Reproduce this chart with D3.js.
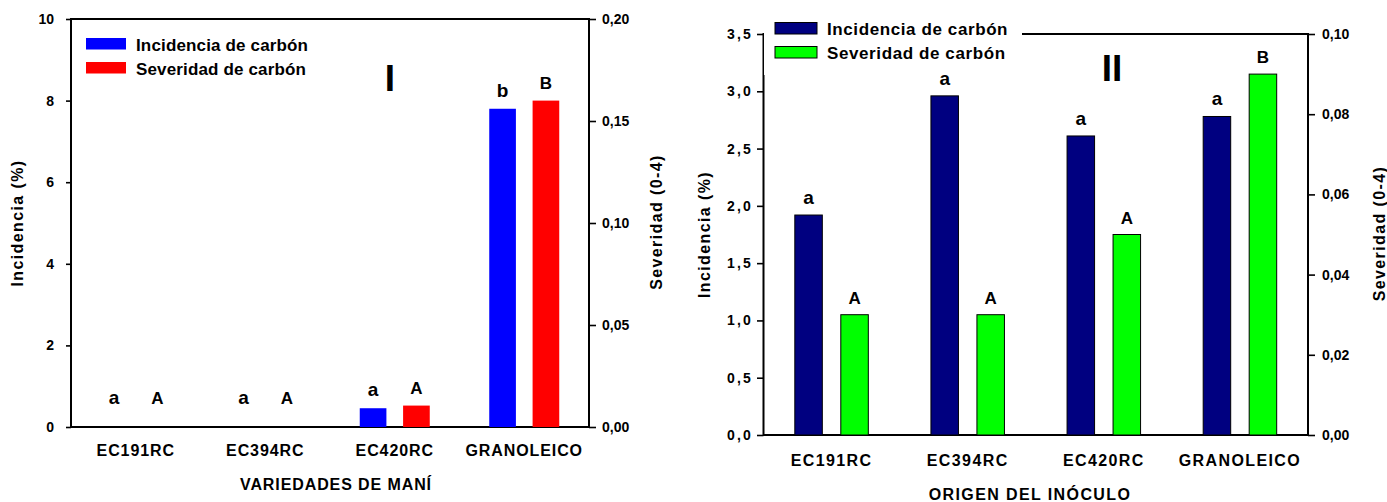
<!DOCTYPE html>
<html>
<head>
<meta charset="utf-8">
<script src="https://d3js.org/d3.v7.min.js"></script>
<style>
  body { margin: 0; background: #fff; }
  text { font-family: "Liberation Sans", Arial, sans-serif; font-weight: bold; fill: #000; }
</style>
</head>
<body>
<script>
// datos
var categorias = ["EC191RC", "EC394RC", "EC420RC", "GRANOLEICO"];
var series = ["Incidencia de carbón", "Severidad de carbón"];

var incidenciaI = [0, 0, 0.46, 7.8];
var severidadI = [0, 0, 0.0105, 0.16];
var letrasIncI = ["a", "a", "a", "b"];
var letrasSevI = ["A", "A", "A", "B"];
var ticksIncI = [0, 2, 4, 6, 8, 10];
var ticksSevI = [0, 0.05, 0.10, 0.15, 0.20];

var incidenciaII = [1.92, 2.96, 2.61, 2.78];
var severidadII = [0.03, 0.03, 0.05, 0.09];
var letrasIncII = ["a", "a", "a", "a"];
var letrasSevII = ["A", "A", "A", "B"];
var ticksIncII = [0, 0.5, 1.0, 1.5, 2.0, 2.5, 3.0, 3.5];
var ticksSevII = [0, 0.02, 0.04, 0.06, 0.08, 0.10];

var loc = d3.formatLocale({decimal: ",", thousands: ".", grouping: [3], currency: ["", ""]});

var svg = d3.select("body").append("svg")
    .attr("width", 1387)
    .attr("height", 502);

function panel(cfg) {
    var g = svg.append("g");

    var x0 = d3.scaleBand().domain(categorias).range([cfg.left, cfg.right]).padding(0);
    var x1 = d3.scaleBand().domain(["inc", "sev"]).range([-cfg.half, cfg.half]).paddingInner(cfg.pad);
    var yL = d3.scaleLinear().domain([0, cfg.incMax]).range([cfg.bottom, cfg.top]);
    var yR = d3.scaleLinear().domain([0, cfg.sevMax]).range([cfg.bottom, cfg.top]);

    var bars = [];
    categorias.forEach(function(c, i) {
        bars.push({c: c, k: "inc", v: cfg.inc[i], y: yL(cfg.inc[i]), l: cfg.li[i]});
        bars.push({c: c, k: "sev", v: cfg.sev[i], y: yR(cfg.sev[i]), l: cfg.ls[i]});
    });

    function bx(d) { return x0(d.c) + x0.bandwidth() / 2 + x1(d.k); }

    // frame
    g.append("rect")
        .attr("x", cfg.left).attr("y", cfg.top)
        .attr("width", cfg.right - cfg.left).attr("height", cfg.bottom - cfg.top)
        .attr("fill", "none").attr("stroke", "#000").attr("stroke-width", 2);

    // fondo de la leyenda (tapa parte del marco)
    if (cfg.legendBg) {
        g.append("rect")
            .attr("x", cfg.left + 0.5).attr("y", cfg.top - 20)
            .attr("width", 258).attr("height", 61)
            .attr("fill", "#fff");
    }

    g.selectAll(".bar")
        .data(bars.filter(function(d) { return d.v > 0; }))
        .enter().append("rect")
        .attr("class", "bar")
        .attr("x", bx)
        .attr("y", function(d) { return d.y; })
        .attr("width", x1.bandwidth())
        .attr("height", function(d) { return cfg.bottom - d.y; })
        .attr("fill", function(d) { return d.k == "inc" ? cfg.colors[0] : cfg.colors[1]; })
        .attr("stroke", cfg.barStroke ? "#000" : "none")
        .attr("stroke-width", 1);

    // letras de significancia
    g.selectAll(".letra")
        .data(bars)
        .enter().append("text")
        .attr("class", "letra")
        .attr("x", function(d) { return bx(d) + x1.bandwidth() / 2; })
        .attr("y", function(d) { return Math.min(d.y - cfg.letterGap, cfg.bottom - 23); })
        .attr("text-anchor", "middle")
        .style("font-size", function(d) { return d.k == "inc" ? "19px" : "17px"; })
        .text(function(d) { return d.l; });

    // ejes
    var axL = g.append("g")
        .attr("transform", "translate(" + cfg.left + ",0)")
        .call(d3.axisLeft(yL).tickValues(cfg.incTicks).tickSize(cfg.tickL).tickPadding(cfg.padL).tickFormat(cfg.fmtL));
    var axR = g.append("g")
        .attr("transform", "translate(" + cfg.right + ",0)")
        .call(d3.axisRight(yR).tickValues(cfg.sevTicks).tickSize(cfg.tickR).tickPadding(cfg.padR).tickFormat(cfg.fmtR));
    [axL, axR].forEach(function(ax) {
        ax.select(".domain").remove();
        ax.selectAll("line").attr("stroke", "#000").attr("stroke-width", 1.6);
        ax.selectAll("text")
            .style("font-family", '"Liberation Sans", Arial, sans-serif')
            .style("font-weight", "bold")
            .style("font-size", "14px");
    });
    axL.selectAll("text").style("letter-spacing", cfg.lsL + "px");

    // categorias
    g.selectAll(".cat")
        .data(categorias)
        .enter().append("text")
        .attr("class", "cat")
        .attr("x", function(d) { return x0(d) + x0.bandwidth() / 2; })
        .attr("y", cfg.bottom + cfg.catGap)
        .attr("text-anchor", "middle")
        .style("font-size", "16px")
        .style("letter-spacing", cfg.catLs + "px")
        .text(function(d) { return d; });

    g.append("text")
        .attr("x", cfg.titleX).attr("y", cfg.bottom + cfg.titleGap)
        .attr("text-anchor", "middle")
        .style("font-size", "16px")
        .style("letter-spacing", cfg.catLs + "px")
        .text(cfg.xTitle);

    var midY = (cfg.top + cfg.bottom) / 2;
    g.append("text")
        .attr("transform", "translate(" + cfg.yLx + "," + midY + ") rotate(-90)")
        .attr("text-anchor", "middle")
        .style("font-size", "16px")
        .style("letter-spacing", "1.4px")
        .text("Incidencia (%)");
    g.append("text")
        .attr("transform", "translate(" + cfg.yRx + "," + (midY - 1) + ") rotate(-90)")
        .attr("text-anchor", "middle")
        .style("font-size", "16px")
        .style("letter-spacing", "1.4px")
        .text("Severidad (0-4)");

    // numeral
    g.append("text")
        .attr("x", cfg.numX).attr("y", cfg.numY)
        .attr("text-anchor", "middle")
        .style("font-size", "37px")
        .text(cfg.numeral);

    // leyenda
    var lg = g.selectAll(".ley")
        .data(series)
        .enter().append("g")
        .attr("class", "ley")
        .attr("transform", function(d, i) { return "translate(" + cfg.legX + "," + (cfg.legY + i * 24) + ")"; });
    lg.append("rect")
        .attr("x", 0).attr("y", 0)
        .attr("width", cfg.legW).attr("height", 11.5)
        .attr("fill", function(d, i) { return cfg.colors[i]; })
        .attr("stroke", cfg.barStroke ? "#000" : "none")
        .attr("stroke-width", 1);
    lg.append("text")
        .attr("x", cfg.legW + 10).attr("y", 12.5)
        .style("font-size", "17px")
        .style("letter-spacing", cfg.legLs + "px")
        .text(function(d) { return d; });
}

panel({
    left: 71, right: 589, top: 19, bottom: 427,
    half: 35, pad: 0.385,
    inc: incidenciaI, sev: severidadI, li: letrasIncI, ls: letrasSevI,
    incMax: 10, sevMax: 0.2, incTicks: ticksIncI, sevTicks: ticksSevI,
    fmtL: loc.format("d"), fmtR: loc.format(".2f"),
    tickL: 5, padL: 12, tickR: 7, padR: 6, lsL: 0,
    colors: ["#0000ff", "#ff0000"], barStroke: false, letterGap: 12,
    catGap: 29, catLs: 0.9, titleX: 336, titleGap: 63, xTitle: "VARIEDADES DE MANÍ",
    yLx: 23, yRx: 662,
    numeral: "I", numX: 390, numY: 91,
    legendBg: false, legX: 86, legY: 38, legW: 40, legLs: 0.15
});

panel({
    left: 763.5, right: 1308, top: 34, bottom: 435,
    half: 36.75, pad: 0.402,
    inc: incidenciaII, sev: severidadII, li: letrasIncII, ls: letrasSevII,
    incMax: 3.5, sevMax: 0.1, incTicks: ticksIncII, sevTicks: ticksSevII,
    fmtL: loc.format(".1f"), fmtR: loc.format(".2f"),
    tickL: 6.5, padL: 4, tickR: 7, padR: 7, lsL: 2.2,
    colors: ["#000080", "#00ff00"], barStroke: true, letterGap: 11,
    catGap: 31, catLs: 1.4, titleX: 1030, titleGap: 65, xTitle: "ORIGEN DEL INÓCULO",
    yLx: 710, yRx: 1385,
    numeral: "II", numX: 1112, numY: 81,
    legendBg: true, legX: 775, legY: 22.5, legW: 42, legLs: 0.6
});
</script>
</body>
</html>
